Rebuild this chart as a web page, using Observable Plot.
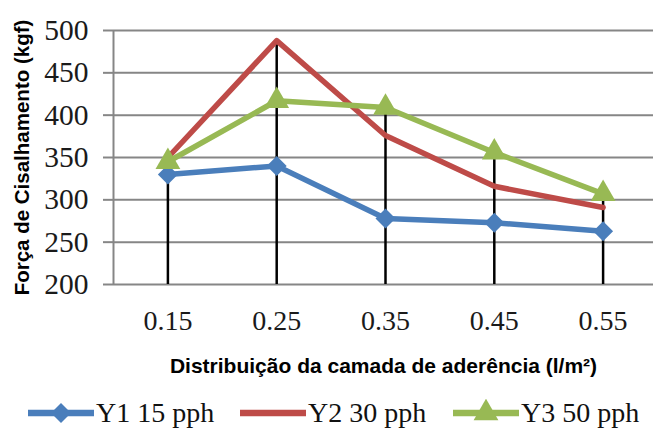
<!DOCTYPE html>
<html>
<head>
<meta charset="utf-8">
<script src="https://cdn.jsdelivr.net/npm/d3@7"></script>
<script src="https://cdn.jsdelivr.net/npm/@observablehq/plot@0.6"></script>
<style>
  html, body { margin: 0; padding: 0; background: #fff; width: 653px; height: 430px; overflow: hidden; }
  #legend { position: relative; height: 40px; font-family: "Liberation Serif", "Times New Roman", serif; color: #111; }
  #legend .item { display: flex; align-items: center; position: absolute; white-space: nowrap; }
</style>
</head>
<body>
<div id="chart"></div>
<div id="legend"></div>
<script>
const xValues = [0.15, 0.25, 0.35, 0.45, 0.55];
const xTickLabels = ["0.15", "0.25", "0.35", "0.45", "0.55"];
const y1 = [330, 340, 278, 273, 263];
const y2 = [350, 488, 376, 316, 291];
const y3 = [345, 417, 409, 356, 307];
const seriesNames = ["Y1 15 pph", "Y2 30 pph", "Y3 50 pph"];
const yTicks = [200, 250, 300, 350, 400, 450, 500];
const colors = ["#4a7ebb", "#be4b48", "#98b954"];

const rows = (vals, name) => vals.map((v, i) => ({x: xValues[i], y: v, s: name}));
const d1 = rows(y1, seriesNames[0]);
const d2 = rows(y2, seriesNames[1]);
const d3r = rows(y3, seriesNames[2]);
const maxes = xValues.map((x, i) => ({x, top: Math.max(y1[i], y2[i], y3[i])}));

const serif = "Liberation Serif, Times New Roman, serif";
const sans = "Liberation Sans, Arial, sans-serif";

const plot = Plot.plot({
  width: 653,
  height: 390,
  marginTop: 30,
  marginBottom: 106,
  marginLeft: 113,
  marginRight: 0,
  x: {domain: [0.1, 0.6], range: [113, 657]},
  y: {domain: [200, 500]},
  style: {background: "#fff", overflow: "hidden"},
  marks: [
    Plot.ruleY(yTicks, {x1: 0.1, x2: 0.6, stroke: "#868686", strokeWidth: 2}),
    Plot.ruleX([0.1], {y1: 200, y2: 500, stroke: "#868686", strokeWidth: 2}),
    Plot.axisY({ticks: yTicks, tickSize: 10, tickPadding: 15, stroke: "#868686", strokeWidth: 2,
      fontSize: 29.5, fontFamily: serif, fill: "#1a1a1a", label: null}),
    Plot.axisX({ticks: xValues, tickFormat: (d, i) => xTickLabels[i], tickSize: 0, tickPadding: 26,
      fontSize: 28, fontFamily: serif, fill: "#1a1a1a", label: null}),
    Plot.ruleX(maxes, {x: "x", y1: 200, y2: "top", stroke: "#000", strokeWidth: 2.5}),
    Plot.line(d1, {x: "x", y: "y", stroke: colors[0], strokeWidth: 5.5}),
    Plot.line(d2, {x: "x", y: "y", stroke: colors[1], strokeWidth: 5.5}),
    Plot.line(d3r, {x: "x", y: "y", stroke: colors[2], strokeWidth: 5.5}),
    Plot.dot(d1, {x: "x", y: "y", symbol: "diamond2", r: 9, fill: colors[0], stroke: null}),
    Plot.dot(d3r, {x: "x", y: "y", symbol: "triangle", r: 9.2, fill: colors[2], stroke: null}),
    Plot.text(["Força de Cisalhamento (kgf)"], {frameAnchor: "left", dx: -91, rotate: -90, textAnchor: "middle",
      fontFamily: sans, fontWeight: "bold", fontSize: 20.5, fill: "#000"}),
    Plot.text(["Distribuição da camada de aderência (l/m²)"], {frameAnchor: "bottom", dy: 82, textAnchor: "middle",
      fontFamily: sans, fontWeight: "bold", fontSize: 21, fill: "#000", lineAnchor: "middle"})
  ]
});
document.getElementById("chart").appendChild(plot);

// Legend
const legend = document.getElementById("legend");
const legendX = [28, 240, 453];
const symbols = ["diamond", null, "triangle"];
seriesNames.forEach((name, i) => {
  const item = document.createElement("div");
  item.className = "item";
  item.style.left = legendX[i] + "px";
  item.style.top = "9px";
  const svg = d3.create("svg").attr("width", 66).attr("height", 28).style("margin-right", "2px");
  svg.append("line").attr("x1", 1).attr("x2", 65).attr("y1", 14).attr("y2", 14)
    .attr("stroke", colors[i]).attr("stroke-width", 6.5).attr("stroke-linecap", "round");
  if (symbols[i] === "diamond") {
    svg.append("path").attr("d", d3.symbol(d3.symbolDiamond2, 255)()).attr("transform", "translate(33,14)").attr("fill", colors[i]);
  } else if (symbols[i] === "triangle") {
    svg.append("path").attr("d", d3.symbol(d3.symbolTriangle, 266)()).attr("transform", "translate(33,14)").attr("fill", colors[i]);
  }
  item.appendChild(svg.node());
  const label = document.createElement("span");
  label.textContent = name;
  label.style.fontSize = "28px";
  label.style.fontFamily = serif;
  label.style.lineHeight = "28px";
  item.appendChild(label);
  legend.appendChild(item);
});
</script>
</body>
</html>
